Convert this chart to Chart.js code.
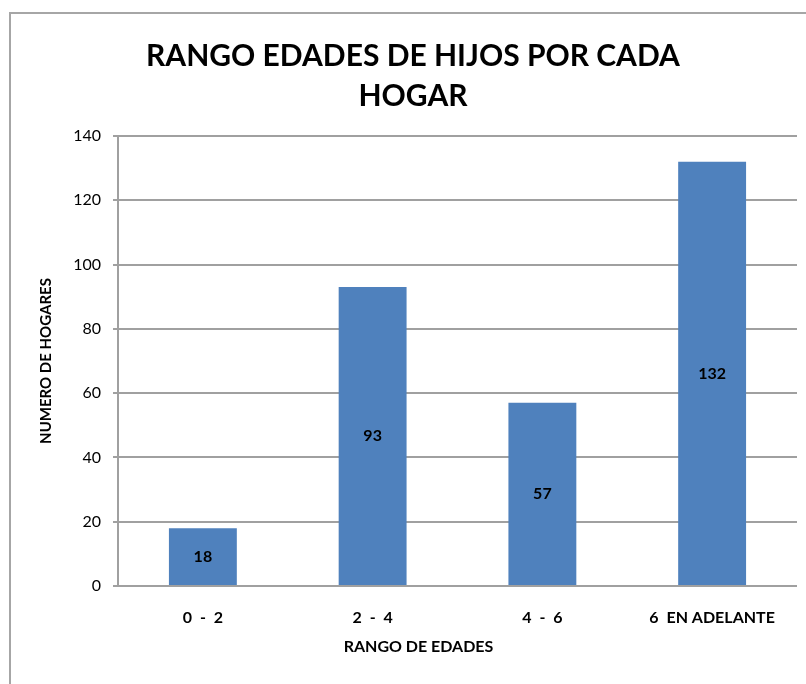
<!DOCTYPE html>
<html lang="es">
  <head>
    <meta charset="UTF-8" />
    <title>Rango edades de hijos por cada hogar</title>
    <script src="https://cdn.jsdelivr.net/npm/chart.js"></script>
    <style>
      body {
        margin: 0;
        background: #fff;
        font-family: Lato, sans-serif;
      }
      .frame {
        position: absolute;
        left: 9px;
        top: 12px;
        width: 900px;
        height: 800px;
        border-left: 2px solid #a6a6a6;
        border-top: 2px solid #a6a6a6;
      }
      #chart {
        position: absolute;
        left: 0;
        top: 0;
      }
    </style>
  </head>
  <body>
    <div class="frame"></div>
    <canvas id="chart" width="797" height="684"></canvas>

    <script>
      // data
      const ageRanges = ["0  -  2", "2  -  4", "4  -  6", "6  EN ADELANTE"];
      const households = [18, 93, 57, 132];
      const yTicks = [0, 20, 40, 60, 80, 100, 120, 140];

      const gridGray = "#a0a0a0";

      // numbers written in the middle of each bar
      const barLabels = {
        id: "barLabels",
        afterDatasetsDraw(chart) {
          const ctx = chart.ctx;
          const meta = chart.getDatasetMeta(0);
          ctx.save();
          ctx.font = "bold 16px Lato";
          ctx.fillStyle = "#000";
          ctx.textAlign = "center";
          ctx.textBaseline = "middle";
          meta.data.forEach((bar, i) => {
            ctx.fillText(households[i], bar.x, (bar.y + bar.base) / 2);
          });
          ctx.restore();
        },
      };

      // x axis title, centred on the whole chart box like Excel does
      const xAxisTitle = {
        id: "xAxisTitle",
        afterDraw(chart) {
          const ctx = chart.ctx;
          ctx.save();
          ctx.font = "bold 16px Lato";
          ctx.fillStyle = "#000";
          ctx.textAlign = "center";
          ctx.textBaseline = "middle";
          ctx.fillText("RANGO DE EDADES", chart.width / 2 + 20, chart.height - 37);
          ctx.restore();
        },
      };

      new Chart(document.getElementById("chart"), {
        type: "bar",
        data: {
          labels: ageRanges,
          datasets: [
            {
              data: households,
              backgroundColor: "#4f81bd",
              barPercentage: 0.4,
              categoryPercentage: 1,
            },
          ],
        },
        plugins: [barLabels, xAxisTitle],
        options: {
          responsive: false,
          animation: false,
          layout: { padding: { left: 29, right: 0, top: 0, bottom: 0 } },
          plugins: {
            legend: { display: false },
            tooltip: { enabled: false },
            title: {
              display: true,
              text: ["RANGO EDADES DE HIJOS POR CADA", "HOGAR"],
              color: "#000",
              font: { family: "Lato", size: 30, weight: "bold", lineHeight: 1.333 },
              padding: { top: 36, bottom: 20 },
            },
          },
          scales: {
            x: {
              afterFit: (scale) => {
                scale.height = 98;
              },
              grid: { display: false, drawTicks: false },
              border: { display: true, color: gridGray, width: 2 },
              ticks: {
                color: "#000",
                padding: 22,
                font: { family: "Lato", size: 16, weight: "bold" },
              },
            },
            y: {
              min: 0,
              max: 140,
              afterFit: (scale) => {
                scale.width = 89;
              },
              afterBuildTicks: (scale) => {
                scale.ticks = yTicks.map((v) => ({ value: v }));
              },
              grid: { color: gridGray, lineWidth: 2, tickLength: 5 },
              border: { display: true, color: gridGray, width: 2 },
              ticks: {
                color: "#000",
                padding: 12,
                font: { family: "Lato", size: 16 },
              },
              title: {
                display: true,
                text: "NUMERO DE HOGARES",
                color: "#000",
                font: { family: "Lato", size: 15, weight: "bold", lineHeight: 1.2 },
                padding: { top: 8, bottom: 0 },
              },
            },
          },
        },
      });
    </script>
  </body>
</html>
